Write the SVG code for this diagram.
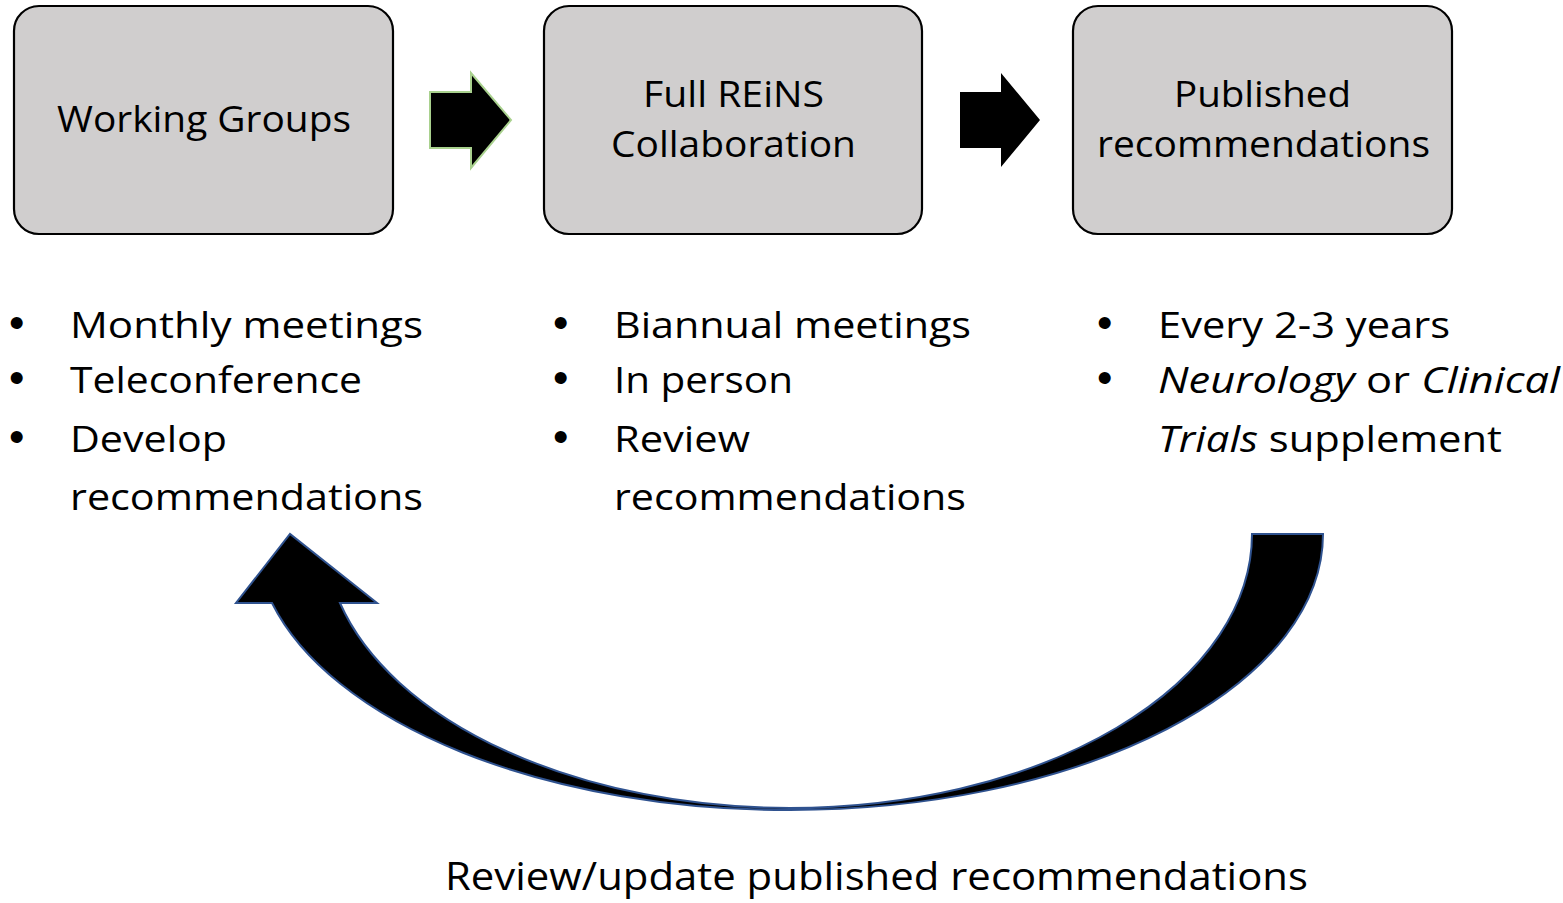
<svg xmlns="http://www.w3.org/2000/svg" width="1563" height="903" viewBox="0 0 1563 903">
<style>
.box{fill:#d0cece;stroke:#000;stroke-width:2.2}
.t{font-family:"Open Sans","Liberation Sans",sans-serif;font-size:37px;fill:#000}
.i{font-style:italic}
.b{font-family:"Liberation Sans",sans-serif;font-size:44px;fill:#000}
</style>
<rect width="1563" height="903" fill="#fff"/>
<g id="node-working-groups">
<rect class="box" x="14" y="6" width="379" height="228" rx="25"/>
<text class="t" x="57" y="132" textLength="294" lengthAdjust="spacingAndGlyphs">Working Groups</text>
</g>
<g id="node-full-reins">
<rect class="box" x="544" y="6" width="378" height="228" rx="25"/>
<text class="t" x="643" y="107" textLength="181" lengthAdjust="spacingAndGlyphs">Full REiNS</text>
<text class="t" x="611" y="157" textLength="245" lengthAdjust="spacingAndGlyphs">Collaboration</text>
</g>
<g id="node-published">
<rect class="box" x="1073" y="6" width="379" height="228" rx="25"/>
<text class="t" x="1174" y="107" textLength="177" lengthAdjust="spacingAndGlyphs">Published</text>
<text class="t" x="1097" y="157" textLength="333" lengthAdjust="spacingAndGlyphs">recommendations</text>
</g>
<g id="list-working-groups">
<text class="b" x="9" y="338">•</text>
<text class="b" x="9" y="393">•</text>
<text class="b" x="9" y="452">•</text>
<text class="t" x="70" y="338" textLength="353" lengthAdjust="spacingAndGlyphs">Monthly meetings</text>
<text class="t" x="70" y="393" textLength="292" lengthAdjust="spacingAndGlyphs">Teleconference</text>
<text class="t" x="70" y="452" textLength="157" lengthAdjust="spacingAndGlyphs">Develop</text>
<text class="t" x="70" y="510" textLength="353" lengthAdjust="spacingAndGlyphs">recommendations</text>
</g>
<g id="list-full-reins">
<text class="b" x="553" y="338">•</text>
<text class="b" x="553" y="393">•</text>
<text class="b" x="553" y="452">•</text>
<text class="t" x="614" y="338" textLength="357" lengthAdjust="spacingAndGlyphs">Biannual meetings</text>
<text class="t" x="614" y="393" textLength="179" lengthAdjust="spacingAndGlyphs">In person</text>
<text class="t" x="614" y="452" textLength="136" lengthAdjust="spacingAndGlyphs">Review</text>
<text class="t" x="614" y="510" textLength="352" lengthAdjust="spacingAndGlyphs">recommendations</text>
</g>
<g id="list-published">
<text class="b" x="1097" y="338">•</text>
<text class="b" x="1097" y="393">•</text>
<text class="t" x="1158" y="338" textLength="292" lengthAdjust="spacingAndGlyphs">Every 2-3 years</text>
<text class="t" x="1158" y="393" textLength="402" lengthAdjust="spacingAndGlyphs"><tspan class="i">Neurology</tspan> or <tspan class="i">Clinical</tspan></text>
<text class="t" x="1158" y="452" textLength="344" lengthAdjust="spacingAndGlyphs"><tspan class="i">Trials</tspan> supplement</text>
</g>
<g id="connectors">
<polygon points="430,92 471,92 471,73 511,120 471,168 471,148 430,148" fill="#000" stroke="#a9d18e" stroke-width="2"/>
<polygon points="960,92 1001,92 1001,73 1040,120 1001,167 1001,148 960,148" fill="#000"/>
<path d="M1323,534 A533,276 0 0 1 790,810 A533,276 0 0 1 272,603 L236,603 L290,534 L377,603 L340,603 A465,274 0 0 0 790,808 A462,274 0 0 0 1252,534 Z" fill="#000" stroke="#2f528f" stroke-width="2" stroke-linejoin="miter"/>
</g>
<g id="label-loop">
<text class="t" x="445" y="890" textLength="863" lengthAdjust="spacingAndGlyphs" style="font-size:39px">Review/update published recommendations</text>
</g>
</svg>
